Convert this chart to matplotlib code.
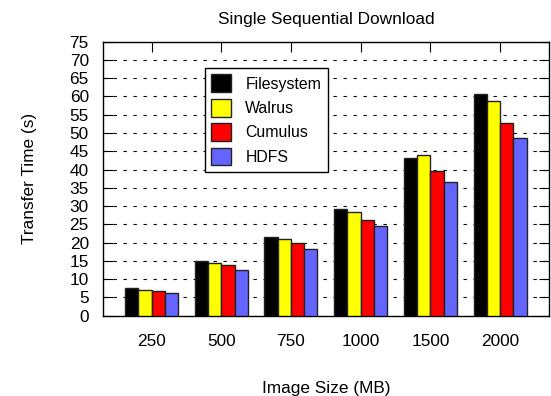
import numpy as np
import matplotlib
matplotlib.use("Agg")
import matplotlib.pyplot as plt

plt.rcParams['font.family'] = ['Liberation Sans', 'DejaVu Sans']

sizes = ['250', '500', '750', '1000', '1500', '2000']
filesystem = [7.5, 14.9, 21.5, 29.2, 43.3, 60.7]
walrus = [6.95, 14.3, 20.9, 28.3, 44.0, 58.8]
cumulus = [6.7, 13.9, 19.8, 26.2, 39.6, 52.8]
hdfs = [6.2, 12.5, 18.3, 24.5, 36.5, 48.7]

series = [('Filesystem', filesystem, '#000000'),
          ('Walrus', walrus, '#ffff00'),
          ('Cumulus', cumulus, '#ff0000'),
          ('HDFS', hdfs, '#6464ff')]

fs = 12.4

fig = plt.figure(figsize=(5.51, 3.96), dpi=100)
ax = fig.add_axes([0.1864, 0.2028, 0.81, 0.6919])

x = np.arange(len(sizes))
w = 0.19
for i, (name, vals, col) in enumerate(series):
    ax.bar(x + (i - 1.5) * w, vals, w, color=col, edgecolor='#222222',
           linewidth=1.0, label=name, zorder=3)

ax.set_xlim(-0.7, 5.7)
ax.set_ylim(0, 75)
ax.set_yticks(np.arange(0, 76, 5))
ax.set_xticks(x)
ax.set_xticklabels(sizes)

ax.yaxis.grid(True, linestyle=(0, (3, 6)), color='black', linewidth=0.8, zorder=0)
ax.tick_params(axis='y', direction='in', left=True, right=True, length=7,
               labelsize=fs, pad=10)
ax.tick_params(axis='x', direction='in', bottom=False, top=True, length=7,
               labelsize=fs, pad=13)
for s in ax.spines.values():
    s.set_linewidth(1.0)

ax.set_title('Single Sequential Download', fontsize=fs, pad=13)
ax.set_xlabel('Image Size (MB)', fontsize=fs, labelpad=23)
ax.set_ylabel('Transfer Time (s)', fontsize=fs, labelpad=23)

leg = ax.legend(loc='upper left', bbox_to_anchor=(0.2285, 0.905), frameon=True,
                fancybox=False, edgecolor='black', framealpha=1.0,
                fontsize=11.4, handlelength=1.25, handleheight=1.35,
                handletextpad=0.9, labelspacing=0.42, borderpad=0.42,
                borderaxespad=0.0)
leg.get_frame().set_linewidth(1.0)
leg.set_zorder(5)

fig.savefig('out.png', dpi=100)
